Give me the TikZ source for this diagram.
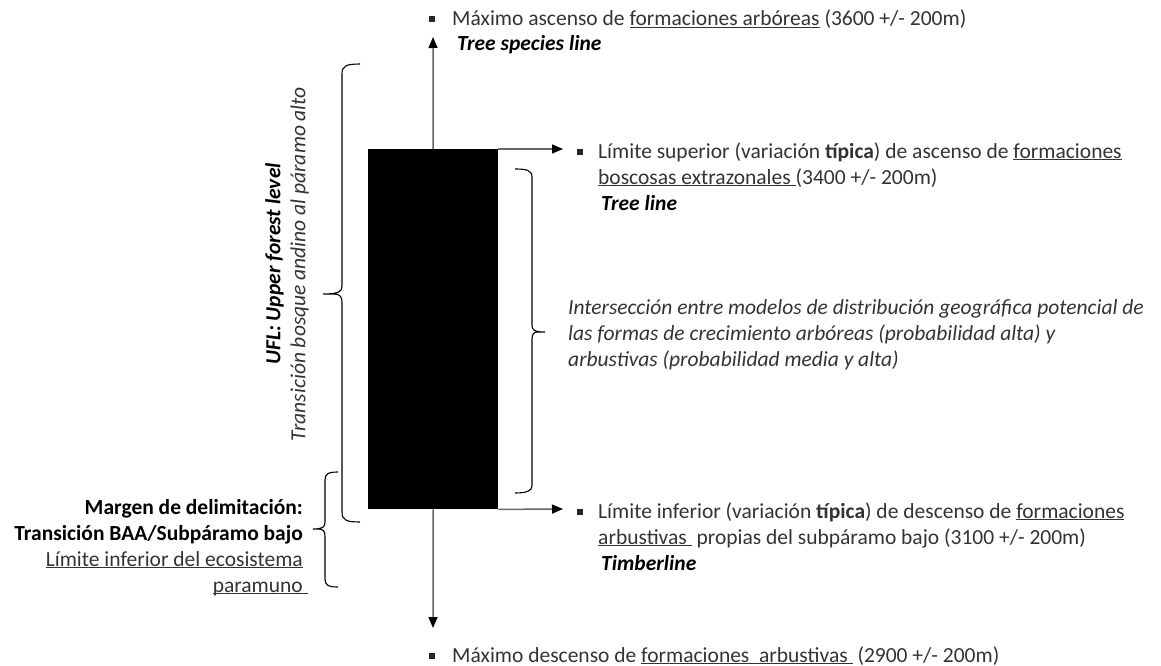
\documentclass[tikz,border=0pt]{standalone}
\usepackage{fontspec}
\setmainfont{Carlito}
\usetikzlibrary{arrows.meta}
\newcommand{\ulx}[1]{\underline{\smash{#1}}}
\begin{document}
\begin{tikzpicture}[x=1pt,y=-1pt,
  txt/.style={font=\fontsize{21.5}{26}\selectfont, text=black!80, inner sep=0pt, anchor=base west},
  txtr/.style={txt, anchor=base east},
  axisline/.style={draw=black!60, line width=1.5pt, -{Triangle[length=11pt,width=9pt,color=black]}},
  bracepath/.style={draw=black, line width=1.1pt},
  bulletsq/.style={fill=black!85, minimum size=6pt, inner sep=0pt}
]
\useasboundingbox (0,0) rectangle (1161,666);
% central bar
\node[fill=black, minimum width=130pt, minimum height=360pt, inner sep=0pt, anchor=north west] (bar) at (368,149) {};
% arrow end points
\coordinate (uptip) at (433,37);
\coordinate (downtip) at (433,628);
\coordinate (hitip) at (563,149);
\coordinate (lotip) at (563,509);
\draw[axisline] (bar.north) -- (uptip);
\draw[axisline] (bar.south) -- (downtip);
\draw[axisline] (bar.north east) -- (hitip);
\draw[axisline] (bar.south east) -- (lotip);
% bullets
\node[bulletsq] (b1) at (432,19) {};
\node[bulletsq] (b2) at (580,152) {};
\node[bulletsq] (b3) at (580,512) {};
\node[bulletsq] (b4) at (432,656) {};
% top texts
\node[txt] (t1) at (452,26) {Máximo ascenso de \ulx{formaciones arbóreas} (3600 +/- 200m)};
\node[txt, text=black] (t2) at (457,51) {\textbf{\textit{Tree species line}}};
% upper right
\node[txt] (u1) at (598,158) {Límite superior (variación \textbf{típica}) de ascenso de \ulx{formaciones}};
\node[txt] (u2) at (598,184) {\ulx{boscosas extrazonales\ }(3400 +/- 200m)};
\node[txt, text=black] (u3) at (601,210) {\textbf{\textit{Tree line}}};
% middle
\node[txt] (m1) at (568,314) {\textit{Intersección entre modelos de distribución geográfica potencial de}};
\node[txt] (m2) at (568,340) {\textit{las formas de crecimiento arbóreas (probabilidad alta) y}};
\node[txt] (m3) at (568,366) {\textit{arbustivas (probabilidad media y alta)}};
% lower right
\node[txt] (l1) at (598,518) {Límite inferior (variación \textbf{típica}) de descenso de \ulx{formaciones}};
\node[txt] (l2) at (598,544) {\ulx{arbustivas\ } propias del subpáramo bajo (3100 +/- 200m)};
\node[txt, text=black] (l3) at (601,570) {\textbf{\textit{Timberline}}};
% bottom
\node[txt] (bt) at (452,662) {Máximo descenso de \ulx{formaciones\ \ arbustivas\ } (2900 +/- 200m)};
% left block
\node[txtr, text=black] (L1) at (303,514) {\textbf{Margen de delimitación:}};
\node[txtr, text=black] (L2) at (303,540) {\textbf{Transición BAA/Subpáramo bajo}};
\node[txtr] (L3) at (303,566) {\ulx{Límite inferior del ecosistema}};
\node[txtr] (L4) at (303,592) {\ulx{paramuno}\rlap{\ulx{\hspace{5pt}}}};
% rotated
\node[font=\fontsize{21.5}{25}\selectfont, text=black!80, align=center, rotate=90, inner sep=0pt] (ufl) at (287,264)
  {\textcolor{black}{\textbf{\textit{UFL: Upper forest level}}}\\ \textit{Transición bosque andino al páramo alto}};
% big brace
\draw[bracepath] (360,64) .. controls (346,64) and (342,66) .. (342,74) -- (342,286)
  .. controls (342,291) and (340,294) .. (323,294) -- (334,294)
  .. controls (340,294) and (342,297) .. (342,302) -- (342,512)
  .. controls (342,520) and (346,522) .. (360,522);
% small brace
\draw[bracepath] (338,472) .. controls (328,472) and (325,474) .. (325,480) -- (325,522)
  .. controls (325,527) and (323,529) .. (313,529) -- (318,529)
  .. controls (323,529) and (325,531) .. (325,536) -- (325,579)
  .. controls (325,585) and (328,587) .. (338,587);
% right bracket
\draw[bracepath] (515,169) .. controls (526,169) and (532,170) .. (532,177) -- (532,325)
  .. controls (532,330) and (534,332) .. (545,332) -- (538,332)
  .. controls (534,332) and (532,334) .. (532,339) -- (532,486)
  .. controls (532,491) and (526,493) .. (515,493);
\end{tikzpicture}
\end{document}
